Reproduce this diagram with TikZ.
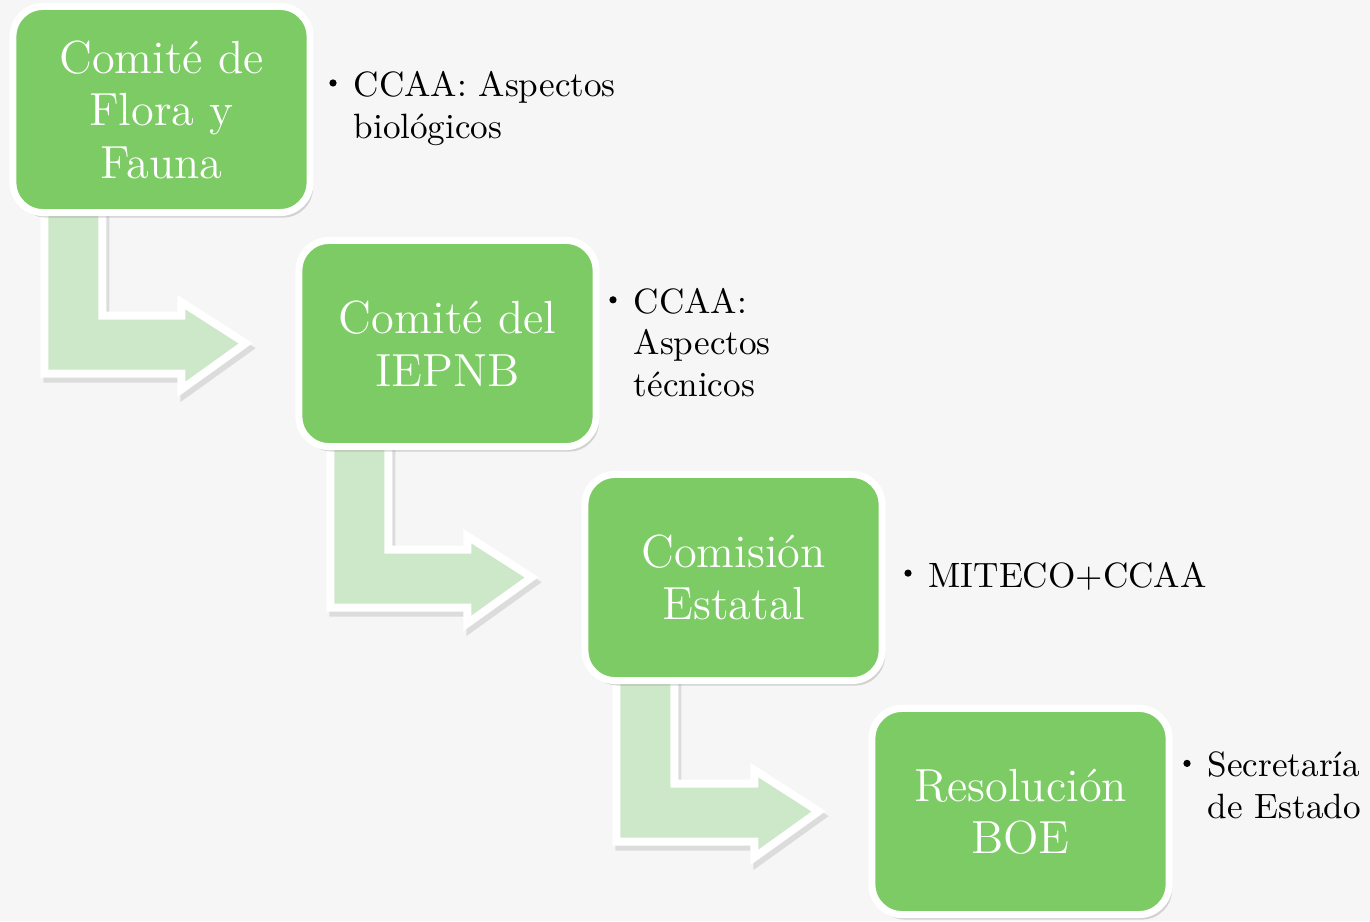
\documentclass[tikz,border=0pt]{standalone}
\usetikzlibrary{calc, shadows, backgrounds}
\definecolor{boxgreen}{RGB}{125,203,101}
\definecolor{arrowgreen}{RGB}{205,231,201}
\definecolor{pagegrey}{RGB}{246,246,246}

\tikzset{
  stage/.style={rectangle, rounded corners=0.3cm, fill=boxgreen, draw=white,
    line width=0.07cm, minimum width=2.97cm, minimum height=2.06cm,
    inner sep=0pt, align=center, text=white,
    font=\fontsize{13.2}{14.9}\selectfont,
    drop shadow={shadow xshift=0.03cm, shadow yshift=-0.05cm, opacity=0.3}},
  note/.style={anchor=base west, align=left, inner sep=0pt,
    font=\fontsize{10}{11.7}\selectfont},
  bendarrow/.style={fill=arrowgreen,
    general shadow={shadow xshift=0.03cm, shadow yshift=-0.05cm,
      draw=black, fill=black, line width=0.16cm, opacity=0.1},
    preaction={draw=white, line width=0.16cm}}
}

\begin{document}
\begin{tikzpicture}[x=0.01cm, y=-0.01cm]
    \useasboundingbox (0,0) rectangle (1370,921);

    % Stages
    \node[stage] (b1) at (161.5,109.5) {Comité de\\Flora y\\Fauna};
    \node[stage] (b2) at (447.5,343.5) {Comité del\\IEPNB};
    \node[stage] (b3) at (733.5,577.5) {Comisión\\Estatal};
    \node[stage] (b4) at (1020.5,811.5) {Resolución\\BOE};

    % Notes (placed at the baseline of their last line)
    \node[note] (n1) at (353,138) {CCAA: Aspectos\\biológicos};
    \node[note] (n2) at (633,396) {CCAA:\\Aspectos\\técnicos};
    \node[note] (n3) at (928,587) {MITECO+CCAA};
    \node[note] (n4) at (1207,818) {Secretaría\\de Estado};

    \foreach \n in {n1,n2,n3,n4}
    \fill ($(\n.north west)+(-20,12)$) circle (3.6);

    \begin{scope}[on background layer]
      \fill[pagegrey] (0,0) rectangle (1370,921);

      % Bent arrows
      \foreach \a/\b in {b1/b2, b2/b3, b3/b4}
      \path[bendarrow] ($(\a.south west)+(39,-20)$) coordinate (s)
        |- ($(\b.west)+(-110,26)$) -- ++(0,12)
        -- ($(\b.west)+(-57,0)$) -- ++(-53,-34) -- ++(0,10)
        -| ($(s)+(50,0)$) -- cycle;
    \end{scope}
\end{tikzpicture}
\end{document}
